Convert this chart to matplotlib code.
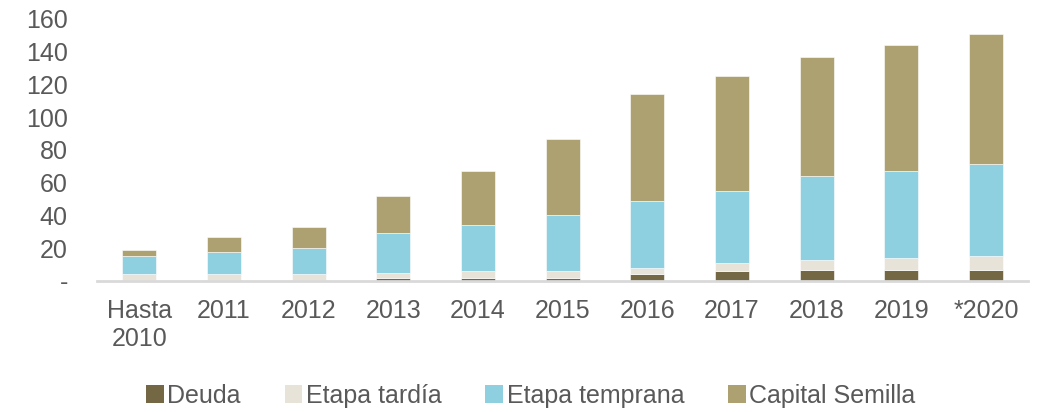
import matplotlib.pyplot as plt
from matplotlib.patches import Patch

plt.rcParams['font.family'] = ['Liberation Sans', 'DejaVu Sans']

categories = ['Hasta\n2010', '2011', '2012', '2013', '2014', '2015',
              '2016', '2017', '2018', '2019', '*2020']
deuda = [0.8, 0.8, 0.8, 1.8, 1.8, 1.8, 4.0, 6.0, 7.0, 7.0, 7.0]
etapa_tardia = [3.2, 3.2, 3.2, 3.2, 4.2, 4.2, 4.0, 5.0, 6.0, 7.0, 8.0]
etapa_temprana = [11.0, 14.0, 16.0, 24.3, 28.0, 34.0, 41.0, 44.0, 51.0, 53.0, 56.5]
capital_semilla = [4.0, 9.0, 13.0, 22.7, 33.0, 47.0, 65.0, 70.0, 73.0, 77.0, 79.5]
yticks = [0, 20, 40, 60, 80, 100, 120, 140, 160]
ytick_labels = ['-', '20', '40', '60', '80', '100', '120', '140', '160']

series = [
    ('Deuda', deuda, '#736843'),
    ('Etapa tardía', etapa_tardia, '#e7e3d8'),
    ('Etapa temprana', etapa_temprana, '#8ecfe0'),
    ('Capital Semilla', capital_semilla, '#ada171'),
]

fig = plt.figure(figsize=(10.43, 4.12), dpi=100)
ax = fig.add_axes([0.093, 0.318, 0.893, 0.636])

x = list(range(len(categories)))
bottom = [0.0] * len(categories)
for name, vals, color in series:
    ax.bar(x, vals, width=0.4, bottom=bottom, color=color,
           edgecolor='white', linewidth=0.4)
    bottom = [b + v for b, v in zip(bottom, vals)]

ax.set_xlim(-0.5, 10.5)
ax.set_ylim(0, 160)
ax.set_yticks(yticks)
ax.set_yticklabels(ytick_labels)
ax.set_xticks(x)
ax.set_xticklabels(categories, linespacing=1.2)

for side in ['top', 'right', 'left']:
    ax.spines[side].set_visible(False)
ax.spines['bottom'].set_color('#d9d9d9')
ax.spines['bottom'].set_linewidth(2)
ax.tick_params(axis='both', length=0, labelsize=18, colors='#595959')
ax.tick_params(axis='x', pad=13)
ax.tick_params(axis='y', pad=21)

handles = [Patch(facecolor=c, label=n) for n, _, c in series]
leg = fig.legend(handles=handles, loc='center', bbox_to_anchor=(0.509, 0.04),
                 ncol=4, frameon=False, fontsize=18, handlelength=0.7,
                 handleheight=0.7, handletextpad=0.15, columnspacing=1.75)
for t in leg.get_texts():
    t.set_color('#595959')

fig.savefig('out.png', dpi=100)
